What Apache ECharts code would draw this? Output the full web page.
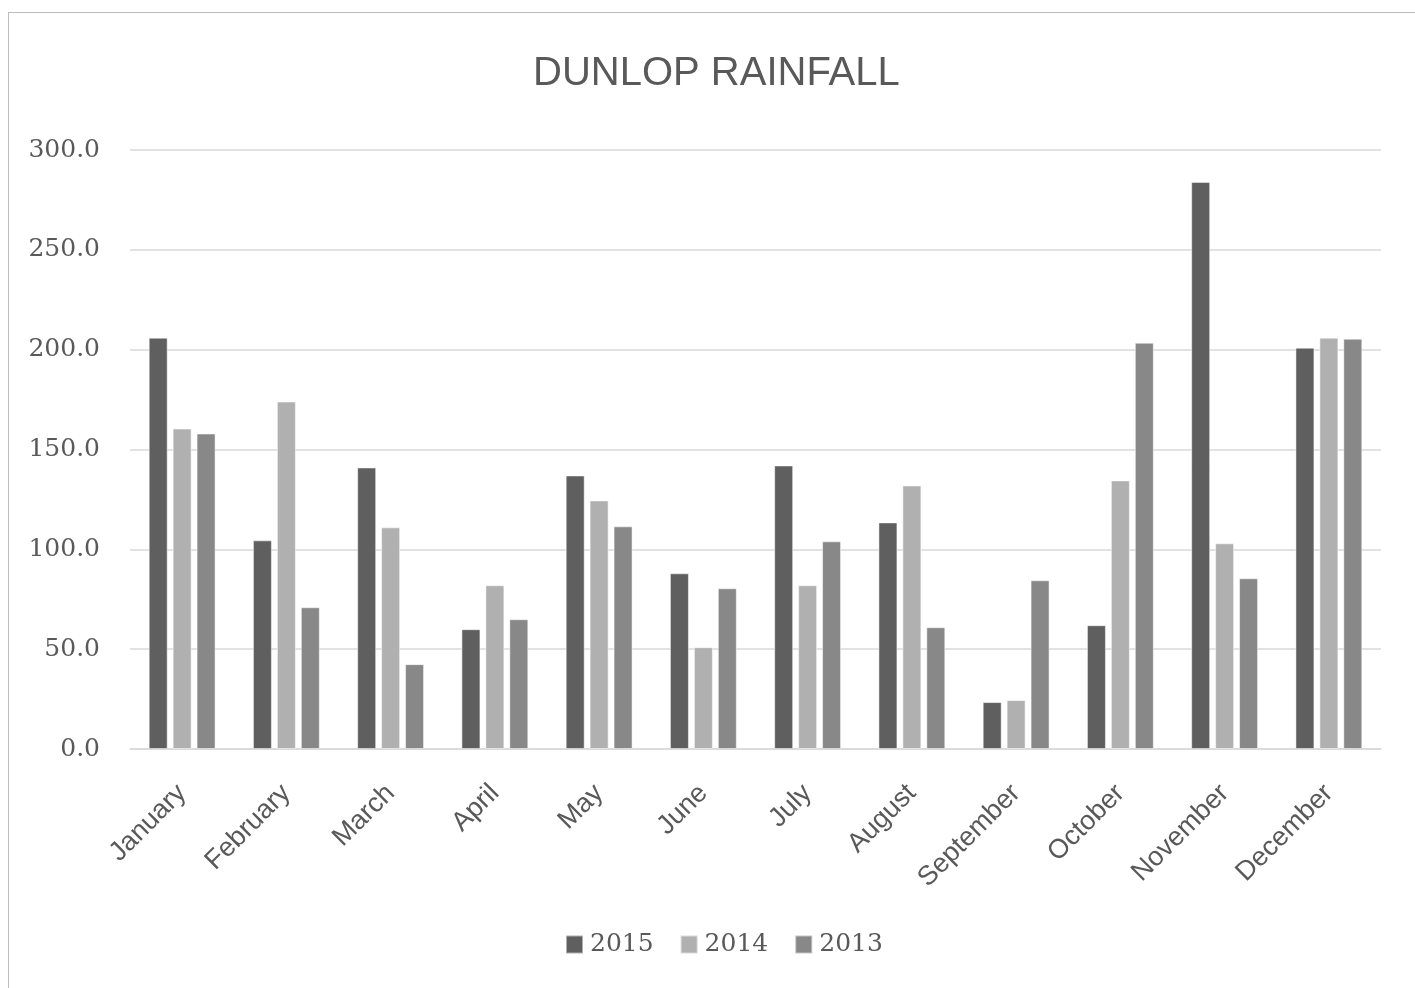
<!DOCTYPE html>
<html><head><meta charset="utf-8">
<script src="https://cdn.jsdelivr.net/npm/echarts@6/dist/echarts.min.js"></script>
<style>
html,body{margin:0;padding:0;background:#fff;}
#frame{position:absolute;left:8px;top:12px;width:1420px;height:990px;border:1.5px solid #bdbdbd;box-sizing:border-box;}
#c{position:absolute;left:0;top:0;width:1415px;height:988px;}
</style></head>
<body>
<div id="frame"></div>
<div id="c"></div>
<script>
const months = ['January','February','March','April','May','June','July','August','September','October','November','December'];
const y2015 = [206, 104.5, 141, 60, 137, 88, 142, 113.5, 23.5, 62, 284, 201];
const y2014 = [160.5, 174, 111, 82, 124.5, 51, 82, 132, 24.5, 134.5, 103, 206];
const y2013 = [158, 71, 42.5, 65, 111.5, 80.5, 104, 61, 84.5, 203.5, 85.5, 205.5];
const yTicks = {min:0, max:300, interval:50};

const chart = echarts.init(document.getElementById('c'), null, {renderer:'canvas'});
const sans = '"Liberation Sans", sans-serif';
const serif = '"DejaVu Serif", "Liberation Serif", serif';
const barStyle = c => ({color:c, borderColor:'rgba(255,255,255,0.5)', borderWidth:1});
chart.setOption({
  animation:false,
  title:{text:'DUNLOP RAINFALL', left:528, top:49, textStyle:{fontFamily:sans, fontSize:40, fontWeight:'normal', color:'#595959'}},
  grid:{left:130, right:34, top:150, bottom:239, containLabel:false},
  legend:{bottom:26, left:560, itemWidth:17, itemHeight:18, itemGap:26, icon:'rect',
    textStyle:{fontFamily:serif, fontSize:25, color:'#595959', padding:[0,0,0,2]}},
  xAxis:{type:'category', data:months,
    axisLine:{lineStyle:{color:'#d9d9d9', width:1.5}}, axisTick:{show:false},
    axisLabel:{rotate:45, fontFamily:sans, fontSize:27, color:'#595959', margin:40, interval:0}},
  yAxis:{type:'value', min:yTicks.min, max:yTicks.max, interval:yTicks.interval,
    axisLine:{show:false}, axisTick:{show:false},
    splitLine:{lineStyle:{color:'#d9d9d9', width:1.5}},
    axisLabel:{formatter:v=>v.toFixed(1), fontFamily:serif, fontSize:25, color:'#595959', margin:30}},
  series:[
    {name:'2015', type:'bar', data:y2015, barWidth:19, barGap:'26%', itemStyle:barStyle('#5f5f5f')},
    {name:'2014', type:'bar', data:y2014, barWidth:19, barGap:'26%', itemStyle:barStyle('#b0b0b0')},
    {name:'2013', type:'bar', data:y2013, barWidth:19, barGap:'26%', itemStyle:barStyle('#888888')}
  ]
});
</script>
</body></html>
